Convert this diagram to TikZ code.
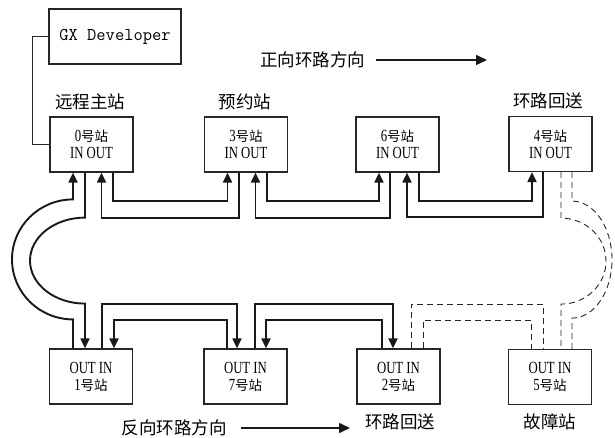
\documentclass[tikz,border=0pt]{standalone}
\usepackage{fontspec}
\setmainfont{Liberation Serif}
\newfontfamily\cjk{Noto Sans CJK SC}
\newfontfamily\narrow[FakeStretch=0.75]{Liberation Serif}
\newcommand{\hz}[1]{{\cjk\fontsize{13.5}{17}\selectfont #1}}
\usetikzlibrary{arrows.meta}
\tikzset{
    station/.style={rectangle, draw=black!85, line width=1.2pt, minimum width=83pt, minimum height=55pt, inner sep=0pt, align=center, font=\fontsize{17}{17}\selectfont\narrow},
    tag/.style={inner sep=0pt, font=\fontsize{17.5}{20}\selectfont\cjk},
    link/.style={draw=black!90, line width=1.9pt, -{Triangle[width=9pt,length=10pt]}},
    dashlink/.style={draw=black!85, line width=0.9pt, dash pattern=on 6pt off 4pt},
    flecha/.style={draw=black!90, line width=1.5pt, -{Triangle[width=10pt,length=11pt]}}
}
\begin{document}
\begin{tikzpicture}[x=1pt, y=-1pt]
    \useasboundingbox (0,0) rectangle (615,438);

    % Nodos: PC y estaciones
    \node[rectangle, draw=black!85, line width=1.2pt, minimum width=132pt, minimum height=55pt, font=\fontsize{18}{20}\selectfont\ttfamily] (gx) at (115,36.5) {GX Developer};

    \node[station] (s0) at (91.5,144.5) {0\hz{号站}\\IN OUT};
    \node[station] (s3) at (246,144.5) {3\hz{号站}\\IN OUT};
    \node[station] (s6) at (397.5,144.5) {6\hz{号站}\\IN OUT};
    \node[station] (s4) at (550.5,144) {4\hz{号站}\\IN OUT};

    \node[station] (s1) at (91,376.5) {OUT IN\\1\hz{号站}};
    \node[station] (s7) at (245.5,376.5) {OUT IN\\7\hz{号站}};
    \node[station] (s2) at (398.5,376.5) {OUT IN\\2\hz{号站}};
    \node[station] (s5) at (550,377) {OUT IN\\5\hz{号站}};

    % Etiquetas
    \node[tag] (master) at (90,102) {远程主站};
    \node[tag] (reserved) at (245,102) {预约站};
    \node[tag] (loopback4) at (548,101) {环路回送};
    \node[tag] (loopback2) at (400,422) {环路回送};
    \node[tag] (fault) at (550,422) {故障站};

    \node[tag] (fwd) at (312.5,60) {正向环路方向};
    \coordinate (fwdend) at (487,60);
    \node[tag] (rev) at (174,428) {反向环路方向};
    \coordinate (revend) at (350,428);

    % --- CONEXIONES ---

    % PC a la estación maestra
    \draw[line width=1.2pt, black!85] (gx.west) -- ++(-16,0) |- (s0.west);

    % Sentido directo (fila superior)
    \draw[link] ([xshift=21.5]s0.south) -- ++(0,28) -| ([xshift=-18.5]s3.south);
    \draw[link] ([xshift=-7]s3.south) -- ++(0,45) -| ([xshift=10]s0.south);
    \draw[link] ([xshift=21]s3.south) -- ++(0,28) -| ([xshift=-18.5]s6.south);
    \draw[link] ([xshift=-7.5]s6.south) -- ++(0,45) -| ([xshift=9.5]s3.south);
    \draw[link] ([xshift=21.5]s6.south) -- ++(0,28) -| ([xshift=-18.5]s4.south);
    \draw[link] ([xshift=-7.5]s4.south) -- ++(0,45) -| ([xshift=9.5]s6.south);

    % Sentido inverso (fila inferior)
    \draw[link] ([xshift=11]s1.north) -- ++(0,-44) -| ([xshift=-8.5]s7.north);
    \draw[link] ([xshift=-18.5]s7.north) -- ++(0,-28) -| ([xshift=23]s1.north);
    \draw[link] ([xshift=9.5]s7.north) -- ++(0,-44) -| ([xshift=-5.5]s2.north);
    \draw[link] ([xshift=-16.5]s2.north) -- ++(0,-28) -| ([xshift=20.5]s7.north);

    % Tramo roto hacia la estación en fallo
    \draw[dashlink] ([xshift=12.5]s2.north) -- ++(0,-44) -| ([xshift=-7]s5.north);
    \draw[dashlink] ([xshift=24.5]s2.north) -- ++(0,-28) -| ([xshift=-19]s5.north);

    % Lazos laterales
    \draw[link] ([xshift=-18]s1.north) -- ++(0,-29) arc[start angle=270, end angle=90, x radius=61pt, y radius=60pt] -- ([xshift=-18.5]s0.south);
    \draw[link] ([xshift=-6.5]s0.south) -- ++(0,45) arc[start angle=90, end angle=270, x radius=55pt, y radius=43pt] -- ([xshift=-6]s1.north);
    \draw[dashlink] ([xshift=21.5]s4.south) -- ++(0,29) arc[start angle=90, end angle=-90, x radius=40pt, y radius=58.5pt] -- ([xshift=22]s5.north);
    \draw[dashlink] ([xshift=10.5]s4.south) -- ++(0,46) arc[start angle=90, end angle=-90, x radius=45pt, y radius=43pt] -- ([xshift=11]s5.north);

    % Flechas de dirección
    \draw[flecha] ([xshift=11]fwd.east) -- (fwdend);
    \draw[flecha] ([xshift=14]rev.east) -- (revend);

\end{tikzpicture}
\end{document}
